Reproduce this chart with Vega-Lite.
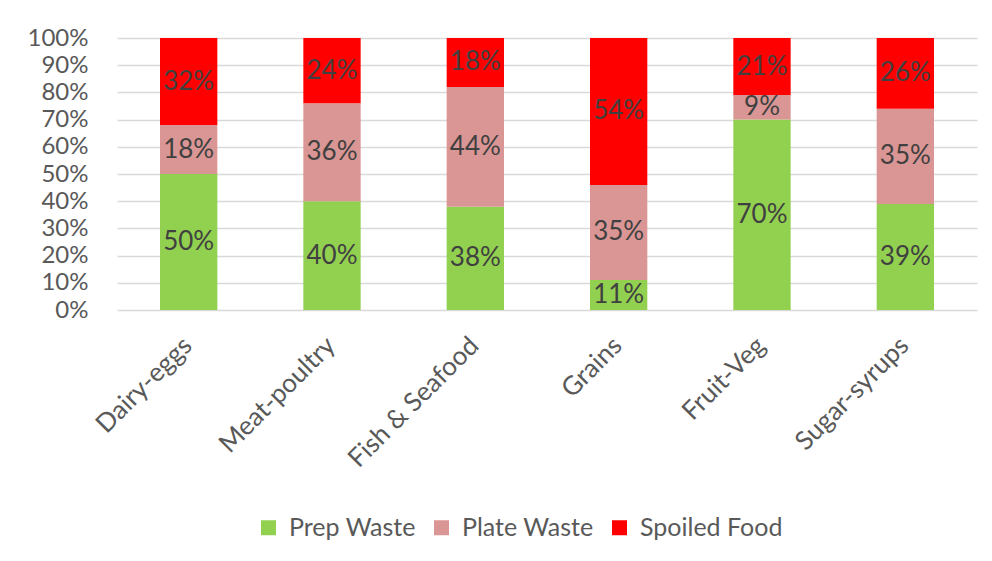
{
  "$schema": "https://vega.github.io/schema/vega-lite/v6.json",
  "autosize": "none",
  "width": 860,
  "height": 272,
  "padding": {"left": 117, "top": 38, "right": 15, "bottom": 251},
  "background": "white",
  "config": {
    "view": {"stroke": null},
    "font": "Lato",
    "axis": {"labelFont": "Lato", "labelColor": "#595959", "labelFontSize": 25},
    "axisY": {"labelOverlap": false, "labelBound": false},
    "legend": {"labelFont": "Lato", "labelColor": "#595959", "labelFontSize": 25}
  },
  "data": {
    "values": [
      {"category": "Dairy-eggs", "type": "Prep Waste", "share": 0.50},
      {"category": "Dairy-eggs", "type": "Plate Waste", "share": 0.18},
      {"category": "Dairy-eggs", "type": "Spoiled Food", "share": 0.32},
      {"category": "Meat-poultry", "type": "Prep Waste", "share": 0.40},
      {"category": "Meat-poultry", "type": "Plate Waste", "share": 0.36},
      {"category": "Meat-poultry", "type": "Spoiled Food", "share": 0.24},
      {"category": "Fish & Seafood", "type": "Prep Waste", "share": 0.38},
      {"category": "Fish & Seafood", "type": "Plate Waste", "share": 0.44},
      {"category": "Fish & Seafood", "type": "Spoiled Food", "share": 0.18},
      {"category": "Grains", "type": "Prep Waste", "share": 0.11},
      {"category": "Grains", "type": "Plate Waste", "share": 0.35},
      {"category": "Grains", "type": "Spoiled Food", "share": 0.54},
      {"category": "Fruit-Veg", "type": "Prep Waste", "share": 0.70},
      {"category": "Fruit-Veg", "type": "Plate Waste", "share": 0.09},
      {"category": "Fruit-Veg", "type": "Spoiled Food", "share": 0.21},
      {"category": "Sugar-syrups", "type": "Prep Waste", "share": 0.39},
      {"category": "Sugar-syrups", "type": "Plate Waste", "share": 0.35},
      {"category": "Sugar-syrups", "type": "Spoiled Food", "share": 0.26}
    ]
  },
  "transform": [
    {"calculate": "indexof(['Prep Waste', 'Plate Waste', 'Spoiled Food'], datum.type)", "as": "stackRank"},
    {"stack": "share", "groupby": ["category"], "sort": [{"field": "stackRank", "order": "ascending"}], "as": ["y0", "y1"]},
    {"calculate": "(datum.y0 + datum.y1) / 2", "as": "ymid"}
  ],
  "encoding": {
    "x": {
      "field": "category",
      "type": "nominal",
      "sort": ["Dairy-eggs", "Meat-poultry", "Fish & Seafood", "Grains", "Fruit-Veg", "Sugar-syrups"],
      "scale": {"paddingInner": 0.6, "paddingOuter": 0.3},
      "axis": {"title": null, "labelAngle": -45, "ticks": false, "domain": false, "labelPadding": 22, "labelOffset": -10, "labelFontSize": 26}
    }
  },
  "layer": [
    {
      "mark": {"type": "bar"},
      "encoding": {
        "y": {
          "field": "y0",
          "type": "quantitative",
          "scale": {"domain": [0, 1], "nice": false},
          "axis": {
            "title": null,
            "format": ".0%",
            "values": [0, 0.1, 0.2, 0.3, 0.4, 0.5, 0.6, 0.7, 0.8, 0.9, 1],
            "labelOverlap": false,
            "labelBound": false,
            "labelFontSize": 24,
            "ticks": false,
            "domain": false,
            "grid": true,
            "gridColor": "#D9D9D9",
            "gridWidth": 1.5,
            "labelPadding": 29
          }
        },
        "y2": {"field": "y1"},
        "color": {
          "field": "type",
          "type": "nominal",
          "scale": {
            "domain": ["Prep Waste", "Plate Waste", "Spoiled Food"],
            "range": ["#92D050", "#DA9694", "#FF0000"]
          },
          "legend": {
            "title": null,
            "orient": "none",
            "direction": "horizontal",
            "legendX": 139,
            "legendY": 477,
            "symbolType": "square",
            "symbolSize": 225,
            "symbolStrokeWidth": 0,
            "labelOffset": 8,
            "columnPadding": 13
          }
        }
      }
    },
    {
      "mark": {"type": "text", "fontSize": 26, "color": "#404040", "font": "Lato", "baseline": "middle"},
      "encoding": {
        "y": {
          "field": "ymid",
          "type": "quantitative",
          "axis": {
            "title": null,
            "format": ".0%",
            "values": [0, 0.1, 0.2, 0.3, 0.4, 0.5, 0.6, 0.7, 0.8, 0.9, 1],
            "labelOverlap": false,
            "labelBound": false,
            "labelFontSize": 24,
            "ticks": false,
            "domain": false,
            "grid": true,
            "gridColor": "#D9D9D9",
            "gridWidth": 1.5,
            "labelPadding": 29
          }
        },
        "text": {"field": "share", "type": "quantitative", "format": ".0%"}
      }
    }
  ]
}
